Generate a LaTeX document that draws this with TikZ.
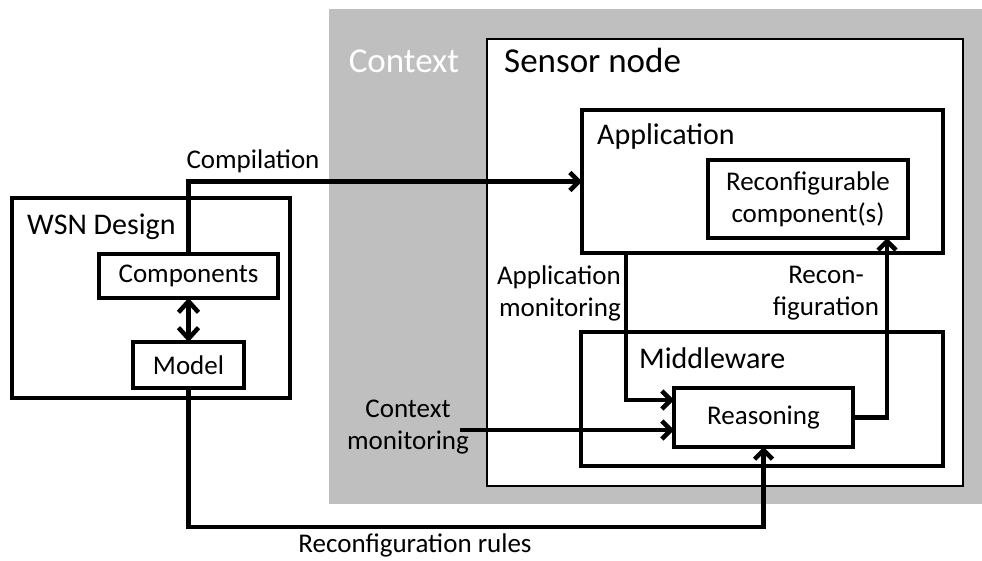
\documentclass[tikz,border=0pt]{standalone}
\usepackage{fontspec}
\setmainfont{Carlito}
\usetikzlibrary{arrows.meta,calc}
\definecolor{ctxgrey}{RGB}{191,191,191}
\begin{document}
\begin{tikzpicture}[x=1pt,y=-1pt,
  box/.style={draw,line width=4pt,rectangle,inner sep=0pt,outer sep=0pt},
  boxtitle/.style={font=\fontsize{30}{30}\selectfont,anchor=west,inner sep=0pt},
  txt/.style={font=\fontsize{27}{32}\selectfont,inner sep=0pt},
  conn/.style={line width=4.5pt,line join=miter,-{Straight Barb[length=9pt,width=18pt]}},
]
\useasboundingbox (0,0) rectangle (982,561);

% context area and sensor node
\node[fill=ctxgrey,minimum width=653pt,minimum height=495pt,inner sep=0pt] (ctx) at (655.5,256.5) {};
\node[draw,fill=white,line width=2pt,minimum width=476pt,minimum height=447pt,inner sep=0pt] (sensor) at (725,262.5) {};
\node[font=\fontsize{35}{35}\selectfont,text=white,inner sep=0pt,anchor=base] (ctxlbl) at (404,73) {Context};
\node[font=\fontsize{35}{35}\selectfont,anchor=base west,inner sep=0pt] (sensorlbl) at (504,73) {Sensor node};

% design side
\node[box,line width=3.5pt,minimum width=278pt,minimum height=200pt] (wsn) at (151,298) {};
\node[boxtitle] (wsnlbl) at (27,227) {WSN Design};
\node[box,fill=white,minimum width=179pt,minimum height=44pt,txt] (comp) at (188.5,276) {Components};
\node[box,fill=white,minimum width=111pt,minimum height=46pt,txt] (model) at (188.5,365) {Model};

% application
\node[box,fill=white,minimum width=361pt,minimum height=143pt] (app) at (762.5,181.5) {};
\node[boxtitle] (applbl) at (597,137) {Application};
\node[box,fill=white,minimum width=200pt,minimum height=78pt,txt,align=center] (recfg) at (808,199) {Reconfigurable\\component(s)};

% middleware
\node[box,fill=white,minimum width=362pt,minimum height=134pt] (mw) at (762,399) {};
\node[boxtitle] (mwlbl) at (639,358) {Middleware};
\node[box,fill=white,minimum width=179pt,minimum height=59pt,txt] (reas) at (763.5,417.5) {Reasoning};

% connectors
\draw[conn] (comp.north) |- (app.west);
\draw[line width=4.5pt,{Straight Barb[length=11pt,width=20pt]}-{Straight Barb[length=11pt,width=20pt]}] (comp.south) -- (model.north);
\draw[conn] ([xshift=44pt]app.south west) |- ([yshift=17.5pt]reas.west);
\coordinate (cmstart) at (460,430);
\draw[conn] (cmstart) -- ([yshift=-12.5pt]reas.west);
\draw[conn] (reas.east) -| ([xshift=179pt]recfg.south west);
\coordinate (rrcorner) at (763.5,527);
\draw[conn] (model.south) |- (rrcorner) -- (reas.south);

% labels
\node[txt] (compilelbl) at (253,161) {Compilation};
\node[txt,align=right,anchor=east] (amlbl) at (621,293) {Application\\monitoring};
\node[txt,align=center] (rclbl) at (826,293) {Recon-\\figuration};
\node[txt,align=center] (cmlbl) at (408,427) {Context\\monitoring};
\node[txt] (rrlbl) at (415,545) {Reconfiguration rules};
\end{tikzpicture}
\end{document}
